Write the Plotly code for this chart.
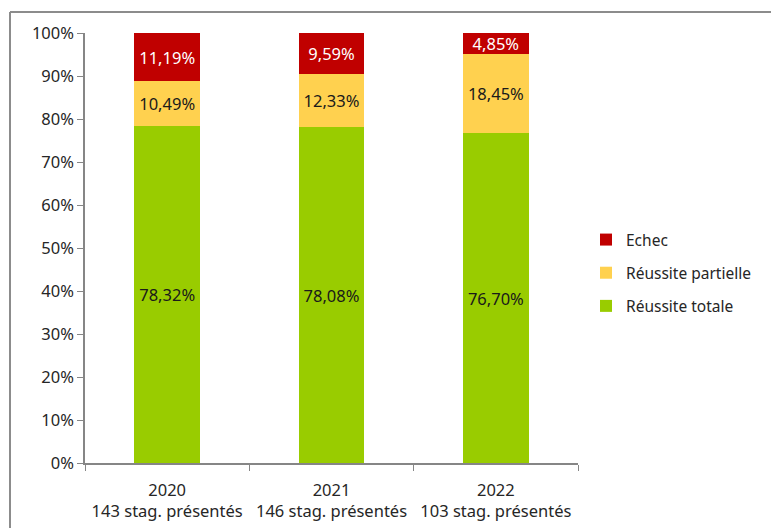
import plotly.graph_objects as go

categories = ["2020<br>143 stag. présentés", "2021<br>146 stag. présentés", "2022<br>103 stag. présentés"]
reussite_totale = [78.32, 78.08, 76.70]
reussite_partielle = [10.49, 12.33, 18.45]
echec = [11.19, 9.59, 4.85]

series = [
    ("Réussite totale", reussite_totale, "#99CC00", "#1a1a1a", 3),
    ("Réussite partielle", reussite_partielle, "#FFD14F", "#1a1a1a", 2),
    ("Echec", echec, "#C00000", "#FFFFFF", 1),
]

FONT = "Noto Sans"
FS = 16.5

# page body has an 8px margin: figure is drawn at (8, 8) on screen
OFF = 8
W, H = 779 - OFF, 528 - OFF
PL, PR, PT, PB = 85, 578, 33, 463  # plot area in screen pixels

def fmt(v):
    return f"{v:.2f}".replace(".", ",") + "%"

fig = go.Figure()
for name, vals, color, tcolor, rank in series:
    fig.add_trace(go.Bar(
        name=name,
        x=categories,
        y=[v / 100 for v in vals],
        marker=dict(color=color, line=dict(width=0)),
        text=[fmt(v) for v in vals],
        textposition="inside",
        insidetextanchor="middle",
        textangle=0,
        constraintext="none",
        textfont=dict(family=FONT, size=FS, color=tcolor),
        legendgroup=name,
        legendrank=rank,
        hoverinfo="skip",
    ))

pw, ph = PR - PL, PB - PT
bx0 = (10 - PL) / pw
bx1 = (820 - PL) / pw
by0 = -(580 - PB) / ph
by1 = 1 + (PT - 12) / ph
frame = dict(color="#8c8c8c", width=2)
fig.update_layout(
    width=W, height=H,
    barmode="stack",
    bargap=0.6,
    plot_bgcolor="white",
    paper_bgcolor="white",
    margin=dict(l=PL - OFF, r=W - (PR - OFF), t=PT - OFF, b=H - (PB - OFF), autoexpand=False),
    font=dict(family=FONT, size=FS, color="#262626"),
    legend=dict(
        traceorder="grouped",
        tracegroupgap=10,
        x=(586 - PL) / pw, xanchor="left",
        y=(PB - 273) / ph, yanchor="middle",
        font=dict(family=FONT, size=15.5, color="#262626"),
        itemwidth=30,
    ),
    showlegend=True,
    shapes=[
        dict(type="line", xref="paper", yref="paper", x0=bx0, x1=bx1, y0=by1, y1=by1,
             line=frame, layer="below"),
        dict(type="line", xref="paper", yref="paper", x0=bx0, x1=bx0, y0=by0, y1=by1,
             line=frame, layer="below"),
    ],
)

fig.update_xaxes(
    showline=True, linecolor="#868686", linewidth=1.5,
    ticks="outside", ticklen=6, tickcolor="#868686",
    tickson="boundaries",
    showgrid=False,
    ticklabelstandoff=11,
    tickfont=dict(family=FONT, size=FS, color="#262626"),
)
fig.update_yaxes(
    range=[0, 1], dtick=0.1, tickformat=".0%",
    showline=True, linecolor="#868686", linewidth=1.5,
    ticks="outside", ticklen=6, tickcolor="#868686",
    showgrid=False, zeroline=False,
    tickfont=dict(family=FONT, size=FS, color="#262626"),
)

fig.write_html("out.html")
